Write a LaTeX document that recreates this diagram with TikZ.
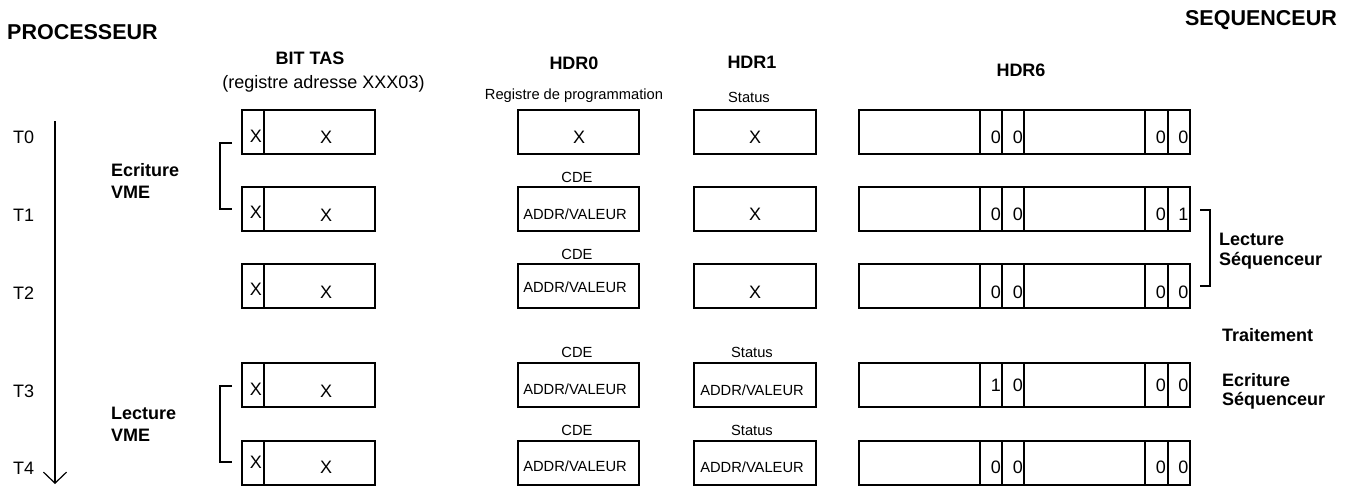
\documentclass[tikz,border=0pt]{standalone}
\usepackage{fontspec}
\setmainfont{Liberation Sans}
\usetikzlibrary{arrows.meta}
\begin{document}
\begin{tikzpicture}[x=1pt,y=1pt,
  box/.style={draw, line width=1.2pt, minimum height=44pt, inner sep=0pt, outer sep=0pt, anchor=north west},
  rule/.style={line width=1.2pt},
  heavy/.style={line width=2pt},
  reg/.style={font=\fontsize{18}{21}\selectfont, inner sep=0pt},
  small/.style={font=\fontsize{14.7}{17}\selectfont, inner sep=0pt},
  bold/.style={font=\bfseries\fontsize{18}{21}\selectfont, inner sep=0pt},
  title/.style={font=\bfseries\fontsize{21.5}{25}\selectfont, inner sep=0pt},
]
\useasboundingbox (0,0) rectangle (1353,-485);

% titles and column headers
\node[title, anchor=base west] (proc) at (7,-39.3) {PROCESSEUR};
\node[title, anchor=base east] (seq) at (1337,-25) {SEQUENCEUR};
\node[bold, anchor=base] (bittas) at (310,-64.3) {BIT TAS};
\node[reg, anchor=base] (regadr) at (323.5,-88.3) {(registre adresse XXX03)};
\node[bold, anchor=base] (hdr0) at (574,-69.3) {HDR0};
\node[bold, anchor=base] (hdr1) at (752,-68.3) {HDR1};
\node[bold, anchor=base] (hdr6) at (1021,-76) {HDR6};
\node[small, anchor=base] (regprog) at (574,-99.3) {Registre de programmation};
\node[small, anchor=base] (stat0) at (749,-102.3) {Status};

% rows
\foreach \i/\rt/\rb/\xs/\xb/\dg/\dA/\dB/\dC/\dD in
  {0/110/143/142/143/143.3/0/0/0/0,
   1/187/221/218/221/220/0/0/0/1,
   2/264/299/295/298/298.3/0/0/0/0,
   3/363/397/395/397/391.7/1/0/0/0,
   4/441/474/468/473/473.3/0/0/0/0}{
  \node[reg, anchor=base west] (T\i) at (13,-\rb) {T\i};
  % BIT TAS register
  \node[box, minimum width=133pt] (tas\i) at (242,-\rt) {};
  \draw[rule] ([xshift=22pt]tas\i.north west) -- ([xshift=22pt]tas\i.south west);
  \draw[heavy] ([xshift=45pt]tas\i.north west) -- ([xshift=56pt]tas\i.north west);
  \node[reg, anchor=base] (tasa\i) at (256,-\xs) {X};
  \node[reg, anchor=base] (tasb\i) at (326,-\xb) {X};
  % HDR0 and HDR1
  \node[box, minimum width=121pt] (hz\i) at (518,-\rt) {};
  \node[box, minimum width=122pt] (ho\i) at (694,-\rt) {};
  % HDR6
  \node[box, minimum width=331pt] (hs\i) at (859,-\rt) {};
  \foreach \o in {121,143,286,309}
    \draw[rule] ([xshift=\o pt]hs\i.north west) -- ([xshift=\o pt]hs\i.south west);
  \draw[heavy] ([xshift=165pt]hs\i.north west) -- ([xshift=165pt]hs\i.south west);
  \draw[heavy] ([xshift=143pt]hs\i.south west) -- ([xshift=165pt]hs\i.south west);
  \draw[heavy] ([xshift=121pt]hs\i.north west) -- ([xshift=121pt,yshift=-11pt]hs\i.north west);
  \draw[heavy] ([xshift=286pt]hs\i.north west) -- ([xshift=286pt,yshift=-11pt]hs\i.north west);
  \draw[heavy] ([xshift=309pt]hs\i.north west) -- ([xshift=319pt]hs\i.north west);
  \node[reg, anchor=base east] (hsa\i) at (1001,-\dg) {\dA};
  \node[reg, anchor=base east] (hsb\i) at (1023,-\dg) {\dB};
  \node[reg, anchor=base east] (hsc\i) at (1166,-\dg) {\dC};
  \node[reg, anchor=base east] (hsd\i) at (1188.5,-\dg) {\dD};
}

% HDR0 contents
\node[reg, anchor=base] (hzx0) at (579,-143.3) {X};
\node[small, anchor=base] (cde1) at (577,-182.7) {CDE};
\node[small, anchor=base] (hzv1) at (575,-219) {ADDR/VALEUR};
\node[small, anchor=base] (cde2) at (577,-259.3) {CDE};
\node[small, anchor=base] (hzv2) at (575,-292.7) {ADDR/VALEUR};
\node[small, anchor=base] (cde3) at (577,-357.3) {CDE};
\node[small, anchor=base] (hzv3) at (575,-394) {ADDR/VALEUR};
\node[small, anchor=base] (cde4) at (577,-435) {CDE};
\node[small, anchor=base] (hzv4) at (575,-471.7) {ADDR/VALEUR};

% HDR1 contents
\node[reg, anchor=base] (hox0) at (755,-143.3) {X};
\node[reg, anchor=base] (hox1) at (755,-220.7) {X};
\node[reg, anchor=base] (hox2) at (755,-298.3) {X};
\node[small, anchor=base] (stat3) at (752,-357.7) {Status};
\node[small, anchor=base] (hov3) at (752,-395) {ADDR/VALEUR};
\node[small, anchor=base] (stat4) at (752,-435) {Status};
\node[small, anchor=base] (hov4) at (752,-472.3) {ADDR/VALEUR};

% time arrow
\coordinate (arrtop) at (55,-121);
\coordinate (arrbot) at (55,-484);
\draw[rule, -{Straight Barb[length=11pt,width=23pt]}] (arrtop) -- (arrbot);

% brackets
\coordinate (ewa) at (232,-143);
\coordinate (ewb) at (220,-143);
\coordinate (ewc) at (220,-209);
\coordinate (ewd) at (232,-209);
\draw[rule] (ewa) -- (ewb) -- (ewc) -- (ewd);
\coordinate (lva) at (232,-386);
\coordinate (lvb) at (220,-386);
\coordinate (lvc) at (220,-462);
\coordinate (lvd) at (232,-462);
\draw[rule] (lva) -- (lvb) -- (lvc) -- (lvd);
\coordinate (lsa) at (1200,-210);
\coordinate (lsb) at (1210,-210);
\coordinate (lsc) at (1210,-286);
\coordinate (lsd) at (1200,-286);
\draw[rule] (lsa) -- (lsb) -- (lsc) -- (lsd);

% side labels
\node[bold, anchor=base west] (ecr1) at (111,-176.7) {Ecriture};
\node[bold, anchor=base west] (ecr2) at (111,-198.3) {VME};
\node[bold, anchor=base west] (lec1) at (111,-419.3) {Lecture};
\node[bold, anchor=base west] (lec2) at (111,-441) {VME};
\node[bold, anchor=base west] (lsq1) at (1219,-245) {Lecture};
\node[bold, anchor=base west] (lsq2) at (1219,-265) {Séquenceur};
\node[bold, anchor=base west] (trt) at (1222,-341.7) {Traitement};
\node[bold, anchor=base west] (esq1) at (1222,-386.7) {Ecriture};
\node[bold, anchor=base west] (esq2) at (1222,-405.5) {Séquenceur};
\end{tikzpicture}
\end{document}
